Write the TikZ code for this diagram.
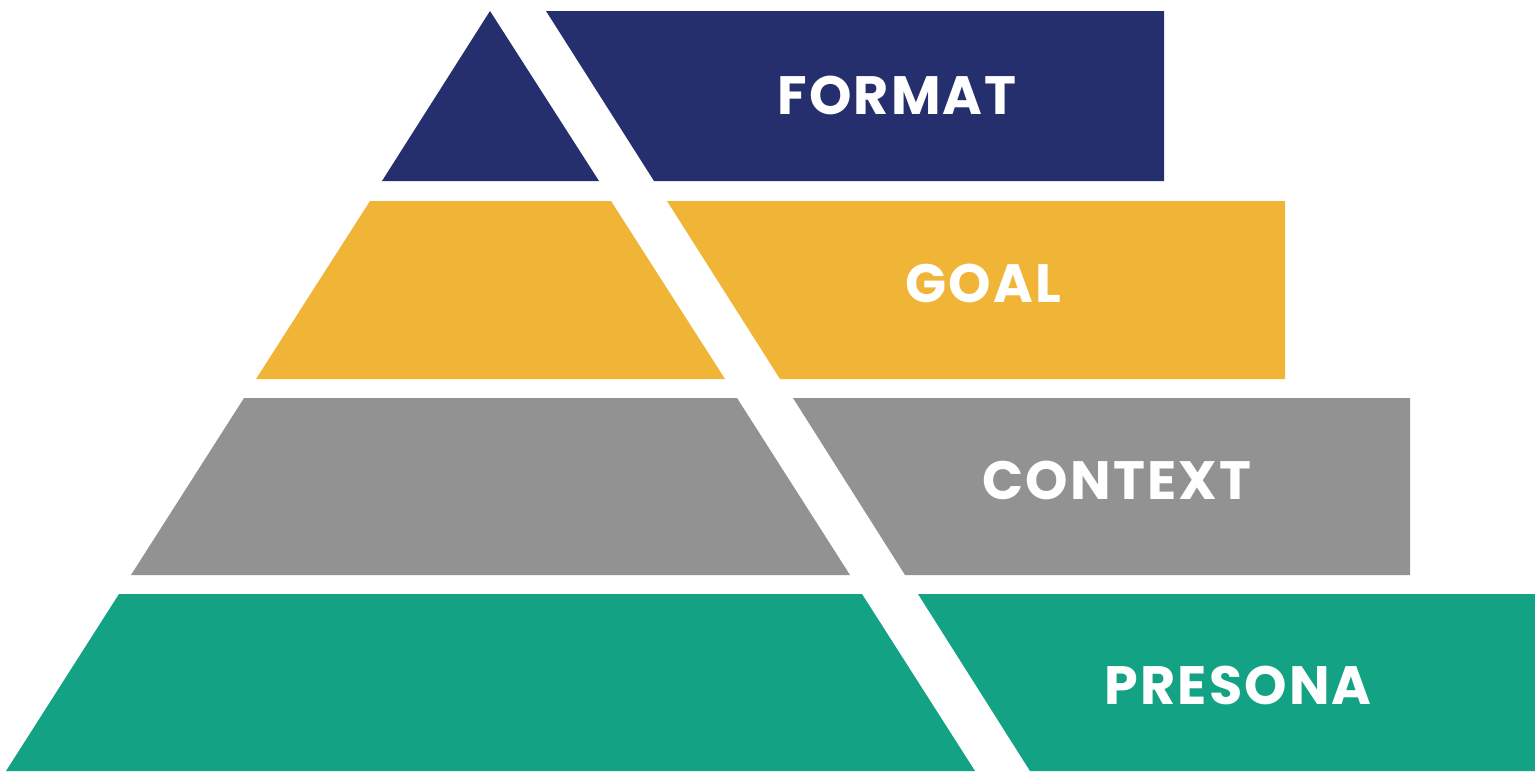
\documentclass[tikz,border=0pt]{standalone}
\usepackage{fontspec}
\setmainfont{Poppins}
\definecolor{formatblue}{HTML}{262F6D}
\definecolor{goalyellow}{HTML}{F0B436}
\definecolor{contextgray}{HTML}{929292}
\definecolor{personagreen}{HTML}{13A283}
\tikzstyle{layertext} = [text=white, inner sep=0pt, font=\fontsize{54}{54}\selectfont\bfseries\addfontfeature{LetterSpace=4}]

\begin{document}
\begin{tikzpicture}[x=1pt, y=-1pt]
        \useasboundingbox (0,0) rectangle (1535,774);

        % left part of the pyramid
        \fill[formatblue] (490,11) -- (599,181) -- (382,181) -- cycle;
        \fill[goalyellow] (370,201) -- (611,201) -- (725,379) -- (256,379) -- cycle;
        \fill[contextgray] (244,398) -- (737,398) -- (850,575) -- (131,575) -- cycle;
        \fill[personagreen] (119,594) -- (862,594) -- (975,771) -- (6,771) -- cycle;

        % right part with the names
        \fill[formatblue] (546,11) -- (1164,11) -- (1164,181) -- (654,181) -- cycle;
        \fill[goalyellow] (667,201) -- (1285,201) -- (1285,379) -- (780,379) -- cycle;
        \fill[contextgray] (793,398) -- (1410,398) -- (1410,575) -- (905,575) -- cycle;
        \fill[personagreen] (918,594) -- (1535,594) -- (1535,771) -- (1030,771) -- cycle;

        \node[layertext] (format) at (897,95) {FORMAT};
        \node[layertext] (goal) at (983,283) {GOAL};
        \node[layertext] (context) at (1117,480) {CONTEXT};
        \node[layertext] (presona) at (1238,685) {PRESONA};
    \end{tikzpicture}
\end{document}
